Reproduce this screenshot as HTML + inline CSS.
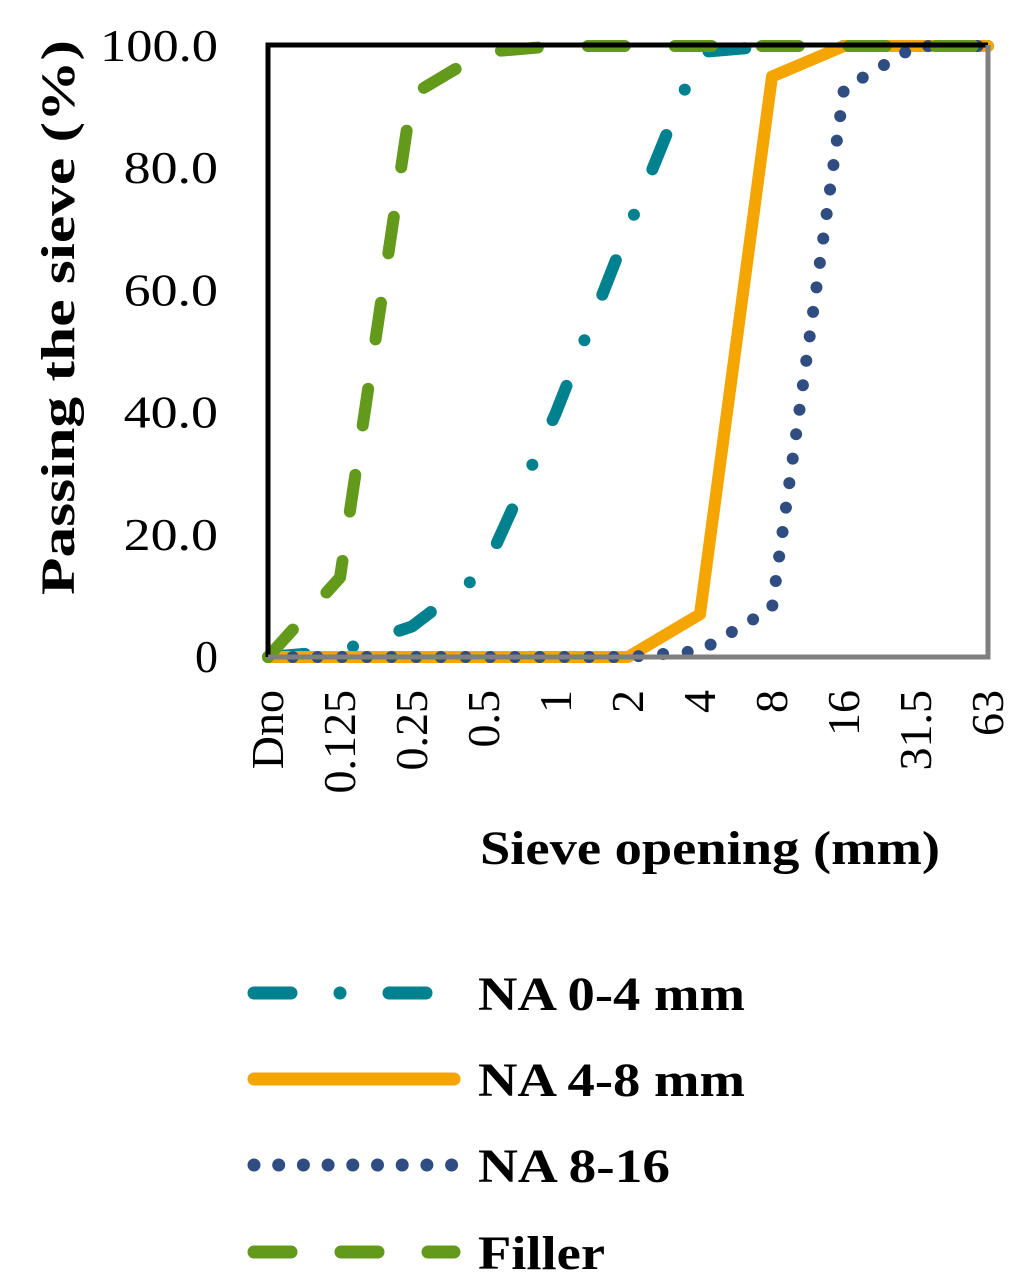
<!DOCTYPE html>
<html><head><meta charset="utf-8"><style>
body{margin:0;background:#fff;}
svg{display:block;font-family:"Liberation Serif",serif;}
</style></head><body>
<svg width="1024" height="1288" viewBox="0 0 1024 1288">
<g id="grid"></g>
<g id="series"></g>
<g id="frame"></g>
<g id="labels"></g>
<g id="legend"></g>
</svg>
<script>
const categories=["Dno","0.125","0.25","0.5","1","2","4","8","16","31.5","63"];
const yTicks=[0,20,40,60,80,100];
const yTickLabels=["0","20.0","40.0","60.0","80.0","100.0"];
const na04=[0,1,5,14,40,70,99,100,100,100,100];
const na48=[0,0,0,0,0,0,7,95,100,100,100];
const na816=[0,0,0,0,0,0,1,8,93,100,100];
const filler=[0,13,92,99,100,100,100,100,100,100,100];
const seriesNames=["NA 0-4 mm","NA 4-8 mm","NA 8-16","Filler"];

const X0=268,X1=988,Y0=657,Y1=46;
const NS="http://www.w3.org/2000/svg";
function xs(i){return X0+(X1-X0)*i/(categories.length-1);}
function ys(v){return Y0-(Y0-Y1)*v/100;}
function el(t,a,p){const e=document.createElementNS(NS,t);for(const k in a)e.setAttribute(k,a[k]);document.getElementById(p).appendChild(e);return e;}

const styles=[
 {data:na04,color:"#00818F",dash:"37 49 0 49",name:"series-na-0-4"},
 {data:na48,color:"#F5A500",dash:"",name:"series-na-4-8"},
 {data:na816,color:"#2F4D80",dash:"0 24.7",name:"series-na-8-16"},
 {data:filler,color:"#639A1C",dash:"37 50",name:"series-filler"}
];
let f=el("path",{d:`M${X0} ${Y0} V${Y1-1} H${X1}`,fill:"none",stroke:"#000","stroke-width":5},"frame");


let f2=el("path",{d:`M${X1} ${Y1-1} V${Y0} H${X0}`,fill:"none",stroke:"#7f7f7f","stroke-width":5},"frame");



styles.forEach(s=>{
 const d=s.data.map((v,i)=>(i?"L":"M")+xs(i)+" "+ys(v)).join(" ");
 const p=el("path",{d:d,fill:"none",stroke:s.color,"stroke-width":12,"stroke-linecap":"round","stroke-linejoin":"round","stroke-dasharray":s.dash},"series");
 
 
});

yTicks.forEach((v,i)=>{
 const lab=yTickLabels[i];
 const t=el("text",{x:218,y:ys(v)+15,"text-anchor":"end","font-size":46},"labels");
 t.textContent=lab;
 if(lab.length>1){t.setAttribute("textLength",lab.length*23.6);t.setAttribute("lengthAdjust","spacingAndGlyphs");}
 
 
});
categories.forEach((c,i)=>{
 const x=xs(i)+15;
 const t=el("text",{x:x,y:690,"text-anchor":"end","font-size":46},"labels");
 t.setAttribute("transform",`rotate(-90 ${x} 690)`);
 t.textContent=c;
 
 
});
let xt=el("text",{x:480,y:864,"font-size":48,"font-weight":"bold",textLength:460,lengthAdjust:"spacingAndGlyphs"},"labels");
xt.textContent="Sieve opening (mm)";


let yt=el("text",{x:-277,y:0,"text-anchor":"middle","font-size":48,"font-weight":"bold",transform:"translate(74 595) rotate(-90)",textLength:555,lengthAdjust:"spacingAndGlyphs"},"labels");
yt.setAttribute("x",277.5);yt.removeAttribute("text-anchor");yt.setAttribute("x",0);
yt.textContent="Passing the sieve (%)";



const ly=[993,1079,1165,1252];
const lw=[267,267,192,127];
styles.forEach((s,i)=>{
 const l=el("line",{x1:254,y1:ly[i],x2:454,y2:ly[i],stroke:s.color,"stroke-width":13,"stroke-linecap":"round","stroke-dasharray":s.dash},"legend");
 
 
 const t=el("text",{x:478,y:ly[i]+17,"font-size":48,"font-weight":"bold",textLength:lw[i],lengthAdjust:"spacingAndGlyphs"},"legend");
 t.textContent=seriesNames[i];
 
 
});
</script>
</body></html>
